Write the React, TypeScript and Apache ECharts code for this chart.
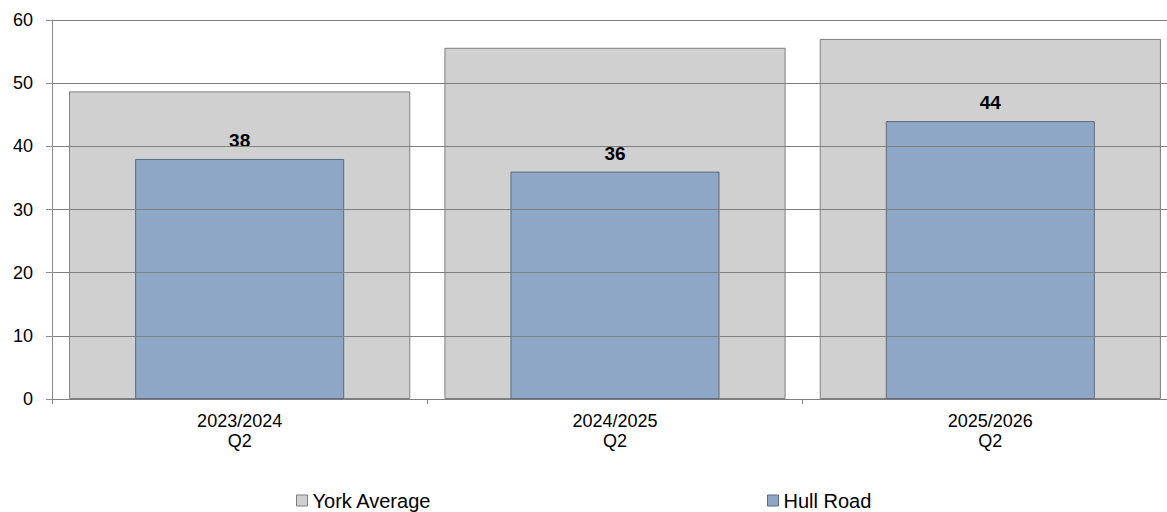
import React, { useEffect, useRef } from "react";
import * as echarts from "echarts";

const categories = ["2023/2024\nQ2", "2024/2025\nQ2", "2025/2026\nQ2"];
const yorkAverage = [48.7, 55.6, 57.0];
const hullRoad = [38, 36, 44];
const yTicks = { min: 0, max: 60, interval: 10 };

const FONT = "'Liberation Sans', Arial, sans-serif";

export default function App() {
  const ref = useRef<HTMLDivElement>(null);
  useEffect(() => {
    if (!ref.current) return;
    const chart = echarts.init(ref.current, undefined, { renderer: "svg" });
    chart.setOption({
      animation: false,
      textStyle: { fontFamily: FONT },
      grid: { left: 52, top: 20, bottom: 113, right: 0, containLabel: false },
      legend: [
        {
          data: [{ name: "York Average", itemStyle: { color: "#d0d0d0", borderColor: "#7f7f7f", borderWidth: 1 } }],
          left: 296,
          top: 490,
          padding: 0,
          itemWidth: 11,
          itemHeight: 11,
          icon: "rect",
          textStyle: { fontSize: 20, lineHeight: 21, color: "#000", fontFamily: FONT },
        },
        {
          data: [{ name: "Hull Road", itemStyle: { color: "#8ea7c6", borderColor: "#5f6b7a", borderWidth: 1 } }],
          left: 767,
          top: 490,
          padding: 0,
          itemWidth: 11,
          itemHeight: 11,
          icon: "rect",
          textStyle: { fontSize: 20, lineHeight: 21, color: "#000", fontFamily: FONT },
        },
      ],
      xAxis: [
        {
          type: "category",
          data: categories,
          axisLine: { show: true, lineStyle: { color: "#7f7f7f", width: 1 } },
          axisTick: { show: true, length: 5, lineStyle: { color: "#7f7f7f" } },
          axisLabel: { color: "#000", fontSize: 18, margin: 12, lineHeight: 20, fontFamily: FONT },
          z: 5,
        },
        {
          type: "category",
          data: categories,
          show: false,
        },
      ],
      yAxis: {
        type: "value",
        min: yTicks.min,
        max: yTicks.max,
        interval: yTicks.interval,
        axisLine: { show: true, lineStyle: { color: "#8c8c8c", width: 1 } },
        axisTick: { show: true, length: 6, lineStyle: { color: "#8c8c8c" } },
        axisLabel: { color: "#000", fontSize: 18, margin: 19, fontFamily: FONT },
        splitLine: { show: true, lineStyle: { color: "#808080", width: 1 } },
        z: 5,
      },
      series: [
        {
          name: "York Average",
          type: "bar",
          xAxisIndex: 0,
          data: yorkAverage,
          barWidth: "90.9%",
          itemStyle: { color: "#d0d0d0", borderColor: "#7f7f7f", borderWidth: 1 },
          z: 2,
        },
        {
          name: "Hull Road",
          type: "bar",
          xAxisIndex: 1,
          data: hullRoad,
          barWidth: "55.7%",
          itemStyle: { color: "#8ea7c6", borderColor: "#5f6b7a", borderWidth: 1 },
          label: {
            show: true,
            position: "top",
            distance: 9,
            color: "#000",
            fontSize: 19,
            fontWeight: "bold",
            fontFamily: FONT,
          },
          z: 3,
        },
      ],
    });
    return () => chart.dispose();
  }, []);
  return (
    <div
      style={{ position: "fixed", left: 0, top: 0, width: 1167, height: 512, overflow: "hidden", background: "#fff" }}
    >
      <div ref={ref} style={{ width: 1178, height: 512 }} />
    </div>
  );
}
